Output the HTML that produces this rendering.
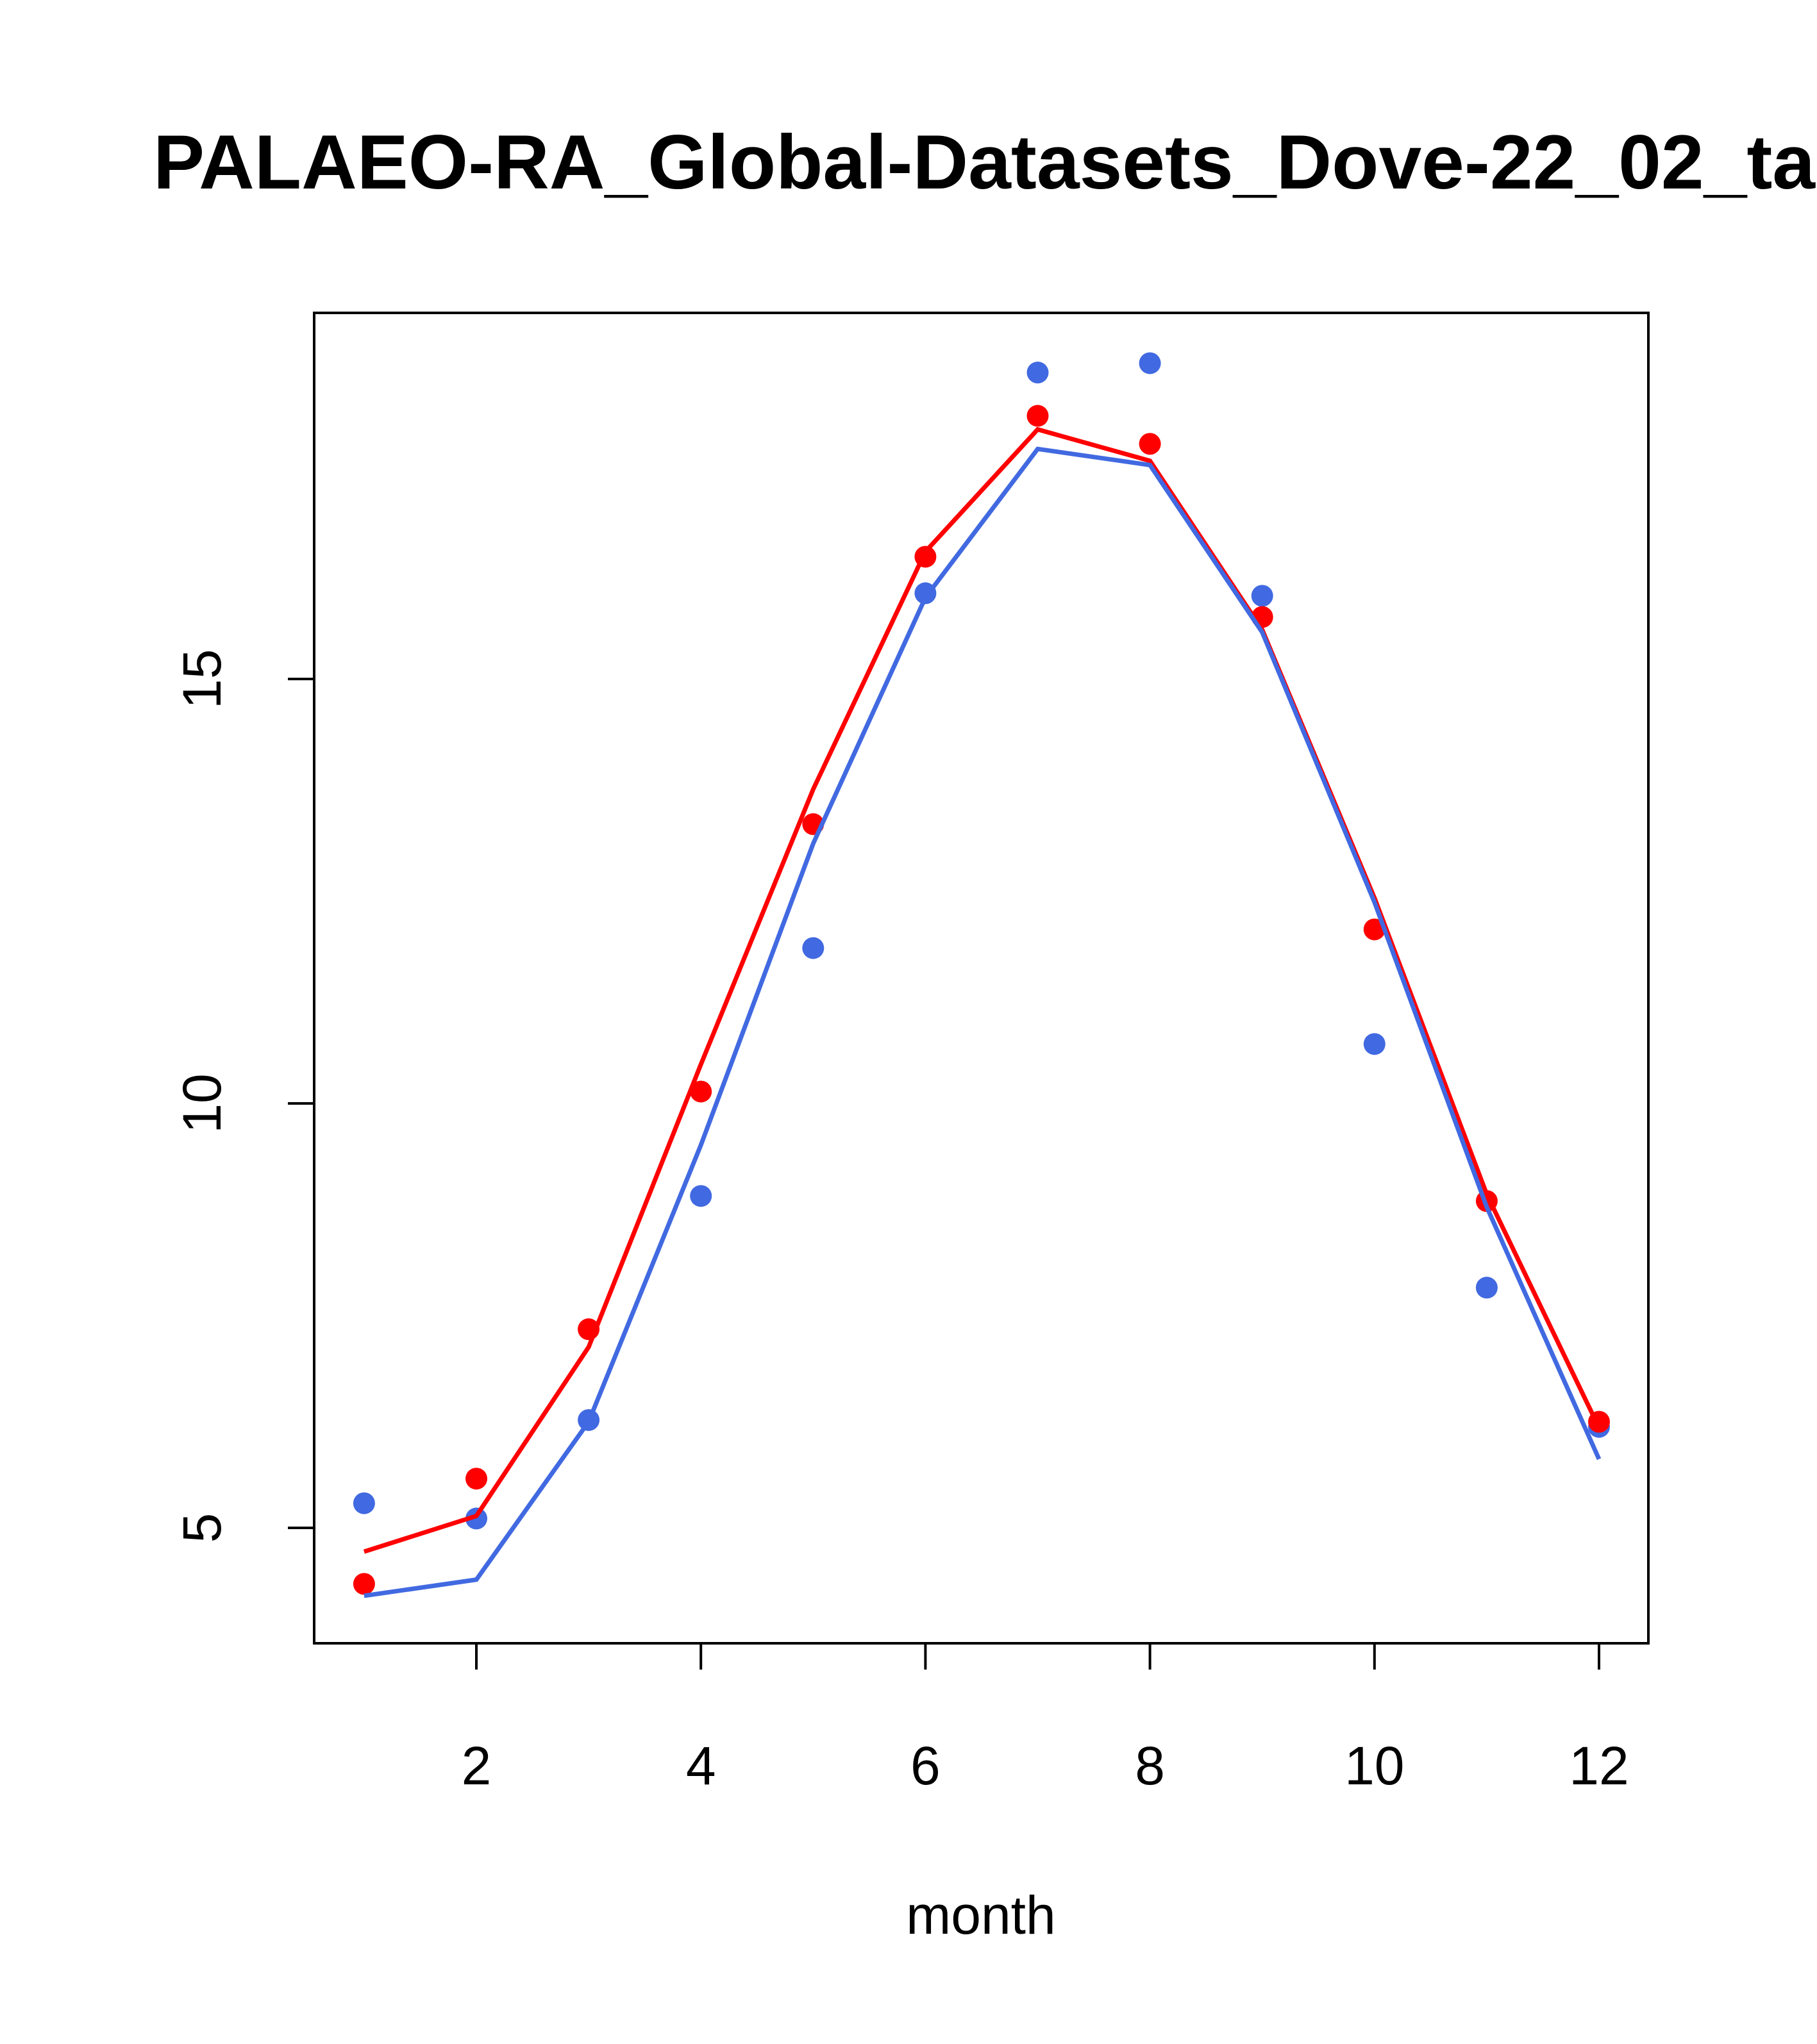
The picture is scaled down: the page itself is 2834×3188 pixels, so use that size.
<!DOCTYPE html>
<html><head><meta charset="utf-8"><style>html,body{margin:0;padding:0;background:#fff;overflow:hidden}svg{display:block}</style></head>
<body>
<svg id="chart" xmlns="http://www.w3.org/2000/svg" width="2834" height="3188" viewBox="0 0 2834 3188" font-family="Liberation Sans, Arial, sans-serif">
<text x="239" y="294" font-size="120" font-weight="bold">PALAEO-RA_Global-Datasets_Dove-22_02_ta</text>
<rect x="490" y="488" width="2081" height="2075" fill="none" stroke="#000" stroke-width="4"/>
<g id="xaxis"></g>
<g id="yaxis"></g>
<text x="1530" y="3016" font-size="84" text-anchor="middle">month</text>
<g id="marks"></g>
</svg>
<script>
const months=[1,2,3,4,5,6,7,8,9,10,11,12];
const redPoints=[4.34,5.58,7.34,10.14,13.29,16.44,18.10,17.77,15.73,12.05,8.85,6.25];
const bluePoints=[5.29,5.11,6.27,8.91,11.83,16.01,18.61,18.72,15.98,10.70,7.83,6.19];
const redLine=[4.72,5.14,7.13,10.46,13.70,16.50,17.94,17.57,15.58,12.42,8.93,6.18];
const blueLine=[4.20,4.39,6.25,9.51,13.06,15.96,17.71,17.52,15.55,12.37,8.78,5.81];
const xTicks=[2,4,6,8,10,12];
const yTicks=[5,10,15];
const NS="http://www.w3.org/2000/svg";
function xs(m){return 743+(m-2)*(2494-743)/10;}
function ys(v){return 2383-(v-5)*(2383-1059)/10;}
function mk(tag,attrs,parent){const e=document.createElementNS(NS,tag);for(const k in attrs)e.setAttribute(k,attrs[k]);parent.appendChild(e);return e;}
const xa=document.getElementById('xaxis'),ya=document.getElementById('yaxis'),mg=document.getElementById('marks');
mk('line',{x1:xs(xTicks[0]),x2:xs(xTicks[xTicks.length-1]),y1:2563,y2:2563,stroke:'#000','stroke-width':4},xa);
xTicks.forEach(t=>{
 const l=mk('line',{x1:xs(t),x2:xs(t),y1:2563,y2:2604,stroke:'#000','stroke-width':4},xa);
 
 
 const tx=mk('text',{x:xs(t),y:2783,'font-size':84,'text-anchor':'middle'},xa);tx.textContent=t;
 
 
});
yTicks.forEach(t=>{
 const l=mk('line',{x1:449,x2:490,y1:ys(t),y2:ys(t),stroke:'#000','stroke-width':4},ya);
 
 
 const tx=mk('text',{x:0,y:0,'font-size':84,'text-anchor':'middle',transform:`translate(344,${ys(t)}) rotate(-90)`},ya);tx.textContent=t;
 
 
});
function line(vals,color,name){
 const p=mk('polyline',{points:months.map((m,i)=>xs(m)+','+ys(vals[i])).join(' '),fill:'none',stroke:color,'stroke-width':7},mg);
 
 
}
function pts(vals,color,name){
 months.forEach((m,i)=>{const c=mk('circle',{cx:xs(m),cy:ys(vals[i]),r:17,fill:color},mg);
 
 });
}
pts(bluePoints,'#4169E1','blue-point');
pts(redPoints,'#FF0000','red-point');
line(redLine,'#FF0000','red-line');
line(blueLine,'#4169E1','blue-line');
</script>
</body></html>
